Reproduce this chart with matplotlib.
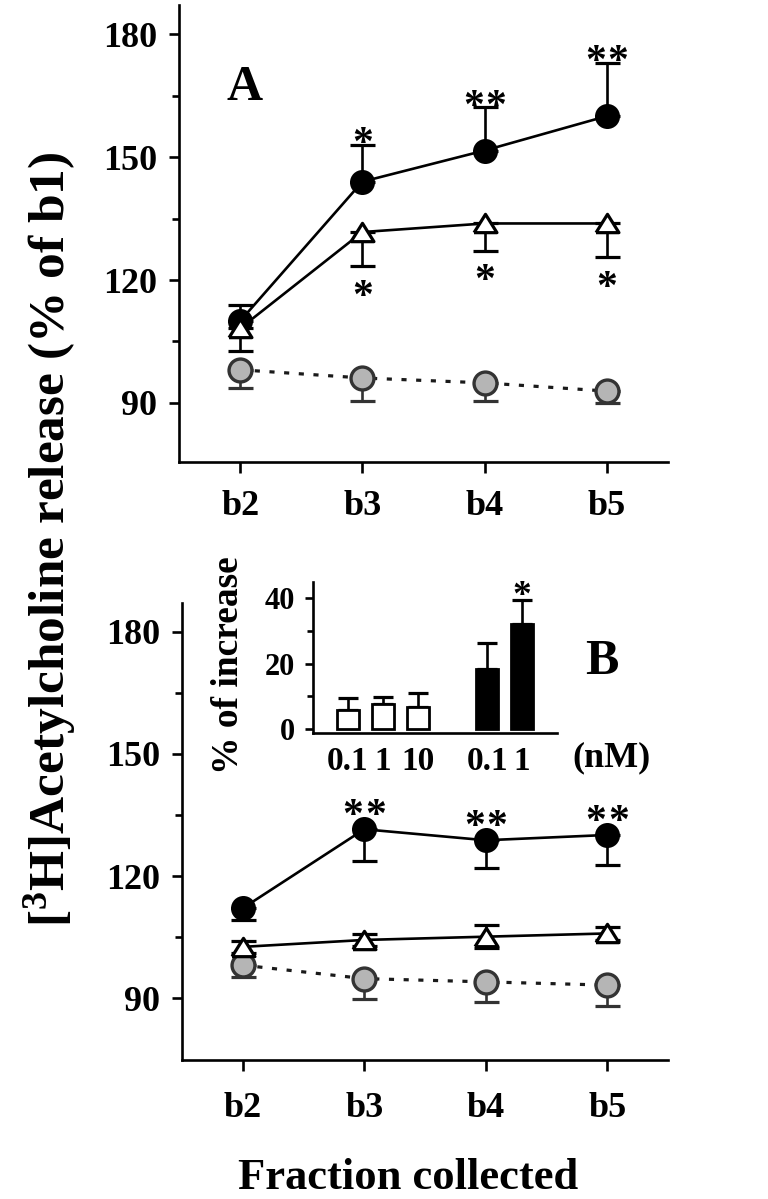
import matplotlib
matplotlib.use('Agg')
import matplotlib.pyplot as plt
import numpy as np

plt.rcParams['font.family'] = ['Liberation Serif', 'DejaVu Serif']
plt.rcParams['font.weight'] = 'bold'
plt.rcParams['mathtext.fontset'] = 'custom'
plt.rcParams['mathtext.rm'] = 'Liberation Serif:bold'
plt.rcParams['mathtext.bf'] = 'Liberation Serif:bold'
plt.rcParams['mathtext.it'] = 'Liberation Serif:bold'

# ---------------- data ----------------
fractions = ['b2', 'b3', 'b4', 'b5']

# Panel A
a_filled = [110.0, 144.0, 151.6, 160.0]
a_filled_err = [4.0, 9.0, 10.5, 13.0]
a_tri = [108.2, 131.7, 133.8, 133.8]
a_tri_err = [5.5, 8.4, 6.6, 8.3]
a_gray = [98.1, 96.1, 94.9, 92.9]
a_gray_err = [4.4, 5.6, 4.4, 2.9]
a_filled_stars = ['', '*', '**', '**']
a_tri_stars = ['', '*', '*', '*']

# Panel B
b_filled = [112.1, 131.5, 128.8, 130.1]
b_filled_err = [2.9, 7.8, 6.7, 7.5]
b_tri = [102.6, 104.3, 105.1, 105.9]
b_tri_err = [1.5, 1.5, 2.8, 1.5]
b_gray = [98.1, 94.8, 94.0, 93.2]
b_gray_err = [2.9, 4.9, 4.9, 5.2]
b_filled_stars = ['', '**', '**', '**']

# Inset (% of increase)
inset_labels = ['0.1', '1', '10', '0.1', '1']
inset_values = [5.8, 7.7, 6.8, 18.2, 32.0]
inset_err = [3.7, 2.1, 4.2, 8.0, 7.4]
inset_filled = [False, False, False, True, True]
inset_stars = ['', '', '', '', '*']

# ---------------- style ----------------
W, H = 768, 1199
fig = plt.figure(figsize=(W / 100, H / 100), dpi=100)

LW = 1.9
CIRC_MS = 16.5
TRI_MS = 16.5
GRAY_FILL = '#b5b5b5'
GRAY_EDGE = '#333333'
STAR_FS = 30
STAR_GAP_PT = 16
tri_marker = [(-1, -0.8), (1, -0.8), (0, 0.8), (-1, -0.8)]


def px2fig(x, y):
    return x / W, 1 - y / H


def style_main(ax, ylim, xpad):
    ax.set_xlim(-0.5, 3.5)
    ax.set_ylim(*ylim)
    for s in ['top', 'right']:
        ax.spines[s].set_visible(False)
    for s in ['left', 'bottom']:
        ax.spines[s].set_linewidth(LW)
    ax.set_xticks(range(len(fractions)))
    ax.set_xticklabels(fractions, fontsize=26, fontweight='bold')
    ax.set_yticks([90, 120, 150, 180])
    ax.set_yticks([105, 135, 165], minor=True)
    ax.tick_params(axis='y', which='major', length=7, width=LW, pad=9, labelsize=26)
    ax.tick_params(axis='y', which='minor', length=5, width=LW)
    ax.tick_params(axis='x', which='major', length=8, width=LW, pad=xpad)
    ax.patch.set_alpha(0)


def star(ax, x, y, s, dy_px, fs=STAR_FS):
    """Place len(s) asterisks, centred on (x, y) and dy_px above it."""
    n = len(s)
    if n == 0:
        return
    dy_pt = dy_px * 0.72 - 0.47 * fs
    for k in range(n):
        dx_pt = (k - (n - 1) / 2) * STAR_GAP_PT
        ax.annotate('*', (x, y), xytext=(dx_pt, dy_pt), textcoords='offset points',
                    ha='center', va='baseline', fontsize=fs, fontweight='bold',
                    annotation_clip=False, zorder=10)


def draw_series(ax, x, y, lo, hi, kind):
    ebkw = dict(fmt='none', ecolor='black', elinewidth=LW, capsize=9, capthick=2.3, zorder=2)
    if kind == 'gray':
        ebkw['ecolor'] = GRAY_EDGE
    ax.errorbar(x, y, yerr=[lo, hi], **ebkw)
    if kind == 'filled':
        ax.plot(x, y, '-', color='black', lw=LW, zorder=3)
        ax.plot(x, y, 'o', ms=CIRC_MS, mfc='black', mec='black', mew=1.5, zorder=4)
    elif kind == 'tri':
        ax.plot(x, y, '-', color='black', lw=LW, zorder=3)
        ax.plot(x, y, marker=tri_marker, ls='none', ms=TRI_MS, mfc='white', mec='black',
                mew=2.3, zorder=5)
    else:
        ax.plot(x, y, color='#1a1a1a', lw=2.3, ls=(0, (1.6, 3)), zorder=3)
        ax.plot(x, y, 'o', ms=CIRC_MS, mfc=GRAY_FILL, mec=GRAY_EDGE, mew=2.4, zorder=4)


x = np.arange(len(fractions))
zeros = [0] * len(fractions)

# ---------------- Panel A ----------------
axA = fig.add_axes([179 / W, 1 - 462 / H, 489 / W, 457 / H])
style_main(axA, (75.6, 187.1), 12)
draw_series(axA, x, a_gray, a_gray_err, zeros, 'gray')
draw_series(axA, x, a_filled, zeros, a_filled_err, 'filled')
draw_series(axA, x, a_tri, a_tri_err, zeros, 'tri')
for i in range(len(x)):
    star(axA, x[i], a_filled[i] + a_filled_err[i], a_filled_stars[i], 9)
    star(axA, x[i], a_tri[i] - a_tri_err[i], a_tri_stars[i], -22)
axA.text(0.135, 0.818, 'A', transform=axA.transAxes, fontsize=36, fontweight='bold',
         ha='center', va='center')

# ---------------- Panel B ----------------
axB = fig.add_axes([182 / W, 1 - 1060 / H, 486 / W, 457 / H])
style_main(axB, (74.8, 187.1), 15)
draw_series(axB, x, b_gray, b_gray_err, zeros, 'gray')
draw_series(axB, x, b_filled, b_filled_err, zeros, 'filled')
draw_series(axB, x, b_tri, b_tri_err, b_tri_err, 'tri')
for i in range(len(x)):
    star(axB, x[i], b_filled[i], b_filled_stars[i], 22)
axB.text(0.864, 0.871, 'B', transform=axB.transAxes, fontsize=36, fontweight='bold',
         ha='center', va='center')

# ---------------- Inset ----------------
axI = fig.add_axes([313 / W, 1 - 733 / H, 244 / W, 151 / H])
pos = [0, 1, 2, 4, 5]
colors = ['black' if f else 'white' for f in inset_filled]
axI.bar(pos, inset_values, width=0.63, color=colors, edgecolor='black', linewidth=2.0, zorder=3)
axI.errorbar(pos, inset_values, yerr=[[0] * len(pos), inset_err], fmt='none', ecolor='black',
             elinewidth=LW, capsize=7, capthick=2.3, zorder=2)
for p, v, e, s in zip(pos, inset_values, inset_err, inset_stars):
    star(axI, p, v + e, s, 12, fs=27)
axI.set_xlim(-1, 6)
axI.set_ylim(-1.2, 44.9)
for s in ['top', 'right']:
    axI.spines[s].set_visible(False)
for s in ['left', 'bottom']:
    axI.spines[s].set_linewidth(LW)
axI.set_xticks(pos)
axI.set_xticklabels(inset_labels, fontsize=24, fontweight='bold')
axI.set_yticks([0, 20, 40])
axI.set_yticks([10, 30], minor=True)
axI.tick_params(axis='x', length=0, pad=9)
axI.tick_params(axis='y', which='major', length=6, width=LW, pad=7, labelsize=22)
axI.tick_params(axis='y', which='minor', length=4, width=LW)
axI.patch.set_alpha(0)

# ---------------- Text labels ----------------
fig.text(*px2fig(228, 665), '% of increase', rotation=90, ha='center', va='center',
         fontsize=27, fontweight='bold')
fig.text(*px2fig(612, 758), '(nM)', ha='center', va='center', fontsize=26, fontweight='bold')
fig.text(*px2fig(50, 539), r'[$^{\mathbf{3}}$H]Acetylcholine release (% of b1)', rotation=90,
         ha='center', va='center', fontsize=37, fontweight='bold')
fig.text(*px2fig(408, 1178), 'Fraction collected', ha='center', va='center',
         fontsize=32, fontweight='bold')

fig.savefig('out.png', dpi=100)
